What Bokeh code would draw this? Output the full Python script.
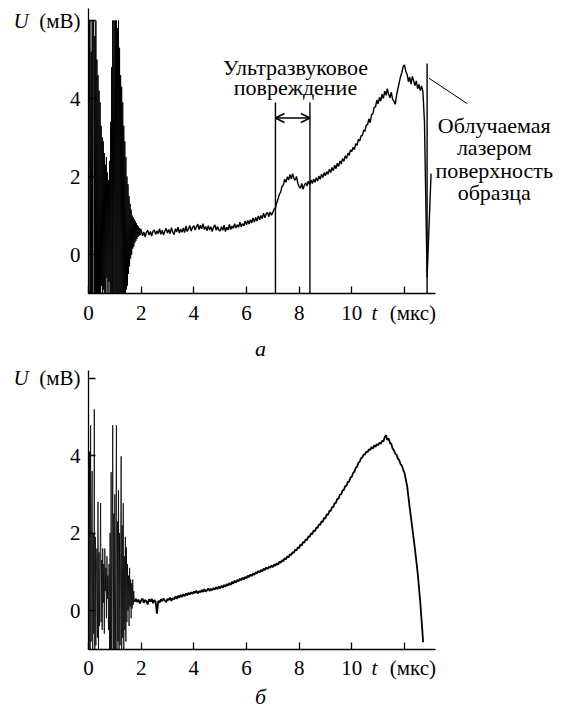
from bokeh.plotting import figure
from bokeh.layouts import column
from bokeh.models import Range1d, Arrow, OpenHead, LinearAxis
from bokeh.core.properties import value
from bokeh.embed import file_html
from bokeh.resources import INLINE

FONT = "Liberation Serif"

# ---------------- data: panel (a) ----------------
a_burst_t0, a_burst_dt = 0.0, 0.02
a_burst_u = [
    6.0, -1.0, 6.0, 6.0, -1.0, 5.2, -1.0, 6.0, -1.0, 6.0,
    6.0, -1.0, 5.6, -1.0, 6.0, -1.0, 5.0, -1.0, 4.6, -1.0,
    4.2, -1.0, 3.9, -1.0, 3.3, -0.8, 3.0, -1.0, 2.9, -0.9,
    2.6, -1.0, 2.3, -1.0, 2.5, -0.6, 2.1, -1.0, 1.9, -0.7,
    2.4, -1.0, 3.4, -1.0, 4.8, -1.0, 6.0, -1.0, 6.0, 6.0,
    -1.0, 6.0, -1.0, 6.0, -1.0, 5.8, -1.0, 6.0, -1.0, 5.3,
    -1.0, 4.6, -1.0, 4.3, -1.0, 3.9, -1.0, 3.3, -1.0, 2.9,
    -1.0, 2.5, -0.9, 2.0, -0.8, 1.8, -0.5, 1.5, -0.3, 1.3,
    -0.1, 1.15, 0.0, 1.0, 0.15, 0.95, 0.2, 0.9, 0.3, 0.85,
    0.35, 0.8, 0.4, 0.75, 0.45, 0.72, 0.48, 0.68, 0.5, 0.66,
]
a_main_t0, a_main_dt = 2.0, 0.05
a_main_u = [
    0.62, 0.48, 0.58, 0.45, 0.57, 0.62, 0.50, 0.59, 0.47, 0.60, 0.63, 0.51, 0.61, 0.53, 0.66, 0.52, 0.62, 0.50, 0.60, 0.67,
    0.55, 0.64, 0.53, 0.69, 0.57, 0.51, 0.66, 0.58, 0.70, 0.55, 0.65, 0.57, 0.68, 0.56, 0.73, 0.59, 0.66, 0.74, 0.60, 0.69,
    0.74, 0.63, 0.71, 0.78, 0.64, 0.75, 0.66, 0.79, 0.64, 0.72, 0.61, 0.74, 0.63, 0.71, 0.59, 0.70, 0.76, 0.62, 0.72, 0.63,
    0.60, 0.71, 0.62, 0.75, 0.59, 0.70, 0.63, 0.77, 0.64, 0.73, 0.67, 0.79, 0.68, 0.76, 0.70, 0.83, 0.71, 0.79, 0.73, 0.86,
    0.76, 0.87, 0.78, 0.89, 0.81, 0.94, 0.83, 0.95, 0.86, 0.99, 0.89, 1.00, 0.92, 1.06, 0.94, 1.04, 1.08, 0.97, 1.09, 1.01,
    1.08, 1.16, 1.20, 1.33, 1.42, 1.55, 1.60, 1.75, 1.78, 1.93, 1.85, 1.99, 1.91, 2.05, 1.94, 2.07, 1.96, 1.90, 2.00, 1.83,
    1.74, 1.70, 1.82, 1.67, 1.78, 1.84, 1.76, 1.88, 1.79, 1.91, 1.82, 1.93, 1.85, 1.97, 1.88, 2.01, 1.93, 2.06, 1.97, 2.10,
    2.02, 2.13, 2.06, 2.19, 2.10, 2.23, 2.15, 2.29, 2.20, 2.34, 2.26, 2.40, 2.32, 2.46, 2.39, 2.53, 2.46, 2.60, 2.54, 2.68,
    2.64, 2.75, 2.69, 2.84, 2.80, 2.95, 2.91, 3.05, 3.04, 3.19, 3.16, 3.32, 3.33, 3.48, 3.38, 3.59, 3.60, 3.78, 3.78, 3.96,
    3.86, 4.03, 3.93, 4.11, 4.00, 4.19, 4.08, 4.25, 4.10, 4.02, 4.16, 3.98, 3.93, 3.85, 4.08, 4.25, 4.40, 4.56, 4.66, 4.82,
    4.86, 4.70, 4.62, 4.43, 4.55, 4.37, 4.57, 4.45, 4.33, 4.45, 4.25, 4.36, 4.20, 4.32, 4.18,
]
a_tail_t = [12.76, 12.86, 13.01]
a_tail_u = [3.40, -0.58, 2.07]

# ---------------- data: panel (b) ----------------
b_burst_t0, b_burst_dt = 0.0, 0.02
b_burst_u = [
    3.6, -1.0, 4.1, -1.0, 4.78, -0.8, 2.4, 3.6, -1.0, 2.0,
    -0.6, 5.19, -1.0, 1.9, -0.9, 1.0, 1.6, -0.7, 2.8, -1.0,
    1.5, -0.4, 1.2, 2.77, -0.3, 1.3, -0.5, 1.6, 0.2, 1.2,
    -0.6, 1.6, 0.5, 1.1, -0.2, 1.4, 0.3, 0.9, -0.5, 1.2,
    -1.0, 2.0, -1.0, 3.57, -1.0, 0.8, 4.78, -1.0, 2.5, -1.0,
    3.0, -1.0, 1.8, 4.78, -1.0, 2.3, -0.8, 3.1, -1.0, 2.0,
    -0.9, 1.5, 3.98, -1.0, 2.2, -0.7, 2.77, -1.0, 1.4, -0.5,
    1.9, -0.8, 1.63, -0.3, 1.2, 0.0, 0.9, -0.4, 1.1, 0.1,
    0.8, -0.2, 0.7, 0.05, 0.8, 0.15, 0.5, 0.22,
]
b_main_t0, b_main_dt = 1.80, 0.05
b_main_u = [
    0.30, 0.22, 0.28, 0.18, 0.26, 0.31, 0.20, 0.27, 0.24, 0.16, 0.29, 0.23, 0.30, 0.19, 0.27, 0.22, -0.08, 0.25, 0.20, 0.29,
    0.24, 0.31, 0.26, 0.21, 0.30, 0.27, 0.33, 0.25, 0.32, 0.29, 0.36, 0.30, 0.38, 0.33, 0.40, 0.35, 0.42, 0.37, 0.44, 0.39,
    0.46, 0.41, 0.47, 0.43, 0.49, 0.45, 0.51, 0.44, 0.50, 0.47, 0.53, 0.48, 0.55, 0.49, 0.52, 0.57, 0.50, 0.56, 0.52, 0.58,
    0.54, 0.60, 0.55, 0.62, 0.57, 0.64, 0.59, 0.66, 0.61, 0.68, 0.64, 0.71, 0.66, 0.74, 0.69, 0.77, 0.72, 0.79, 0.75, 0.82,
    0.78, 0.85, 0.80, 0.87, 0.83, 0.90, 0.86, 0.93, 0.89, 0.96, 0.92, 0.99, 0.95, 1.02, 0.98, 1.05, 1.01, 1.08, 1.04, 1.11,
    1.07, 1.13, 1.10, 1.16, 1.12, 1.19, 1.15, 1.22, 1.18, 1.26, 1.23, 1.30, 1.27, 1.35, 1.32, 1.40, 1.37, 1.45, 1.43, 1.51,
    1.49, 1.57, 1.55, 1.63, 1.61, 1.70, 1.68, 1.77, 1.75, 1.84, 1.82, 1.91, 1.90, 1.99, 1.97, 2.06, 2.05, 2.14, 2.13, 2.22,
    2.21, 2.30, 2.29, 2.39, 2.38, 2.48, 2.47, 2.57, 2.57, 2.67, 2.67, 2.77, 2.78, 2.88, 2.89, 2.99, 3.00, 3.10, 3.11, 3.21,
    3.22, 3.32, 3.33, 3.43, 3.45, 3.55, 3.58, 3.68, 3.71, 3.81, 3.84, 3.93, 3.95, 4.02, 4.03, 4.10, 4.09, 4.16, 4.14, 4.22,
    4.18, 4.26, 4.22, 4.29, 4.26, 4.33, 4.30, 4.38, 4.36, 4.47, 4.52, 4.40, 4.44, 4.32, 4.30, 4.18, 4.13, 4.05, 4.02, 3.92,
    3.88, 3.78, 3.74, 3.64,
]
b_tail_t = [12.0, 12.1, 12.2, 12.3, 12.4, 12.5, 12.6, 12.71]
b_tail_u = [3.55, 3.22, 2.65, 2.12, 1.58, 0.98, 0.22, -0.82]

# ticks and axis texts
x_ticks = [0, 2, 4, 6, 8, 10, 12]
x_tick_labels = ["0", "2", "4", "6", "8", "10"]
y_ticks = [0, 2, 4, 6]
y_tick_labels = ["0", "2", "4"]
x_unit = ("t", "(мкс)")
y_unit = ("U", "(мВ)")
panel_letters = ["а", "б"]

# annotation markers (panel a)
damage_x = [7.10, 8.41]
damage_top = 3.9
arrow_y = 3.5
surface_x = 12.86
surface_top = 4.9
damage_lines = ["Ультразвуковое", "повреждение"]
surface_lines = ["Облучаемая", "лазером", "поверхность", "образца"]

PX_PER_T = 26.33       # horizontal scale, px per microsecond
X_AXIS_END = 13.18


def series(t0, dt, vals):
    return [t0 + dt * i for i in range(len(vals))], vals


def make_fig(height, y_zero_px, px_per_u, y_axis_top, letter, letter_y):
    # the frame covers the whole canvas; axes are drawn at fixed data locations
    x_range = Range1d(-88 / PX_PER_T, (556 - 88) / PX_PER_T)
    y_range = Range1d((y_zero_px - height) / px_per_u, y_zero_px / px_per_u)
    p = figure(width=556, height=height, output_backend="svg", toolbar_location=None,
               x_range=x_range, y_range=y_range,
               x_axis_location=None, y_axis_location=None,
               min_border_left=0, min_border_right=0, min_border_top=0, min_border_bottom=0)
    p.outline_line_color = None
    p.grid.visible = False
    common = dict(axis_line_color="black", axis_line_width=1.3,
                  major_tick_line_color="black", major_tick_line_width=1.3,
                  major_tick_in=7, major_tick_out=0, minor_tick_line_color=None,
                  major_label_text_font_size="0px", major_label_standoff=0,
                  axis_label_standoff=0)
    xa = LinearAxis(ticker=x_ticks, fixed_location=-1, bounds=(0, X_AXIS_END),
                    major_label_overrides={t: "" for t in x_ticks}, **common)
    ya = LinearAxis(ticker=y_ticks, fixed_location=0, bounds=(-1, y_axis_top),
                    major_label_overrides={t: "" for t in y_ticks}, **common)
    p.add_layout(xa, "below")
    p.add_layout(ya, "left")

    fs = "21px"
    # tick labels
    lab_y = -1 - 19 / px_per_u
    p.text(x=x_ticks[:len(x_tick_labels)], y=[lab_y] * len(x_tick_labels), text=x_tick_labels,
           text_font=value(FONT), text_font_size=fs, text_align="center",
           text_baseline="middle", text_color="black")
    lab_x = -8 / PX_PER_T
    p.text(x=[lab_x] * len(y_tick_labels), y=y_ticks[:len(y_tick_labels)], text=y_tick_labels,
           text_font=value(FONT), text_font_size=fs, text_align="right",
           text_baseline="middle", text_color="black")
    # axis unit labels at the last ticks
    p.text(x=[x_ticks[-1] - 1.14], y=[lab_y], text=[x_unit[0]], text_font=value(FONT),
           text_font_style="italic", text_font_size=fs, text_align="center",
           text_baseline="middle", text_color="black")
    p.text(x=[x_ticks[-1] + 0.32], y=[lab_y], text=[x_unit[1]], text_font=value(FONT),
           text_font_size=fs, text_align="center", text_baseline="middle", text_color="black")
    p.text(x=[-75 / PX_PER_T], y=[y_ticks[-1]], text=[y_unit[0]], text_font=value(FONT),
           text_font_style="italic", text_font_size=fs, text_align="left",
           text_baseline="middle", text_color="black")
    p.text(x=[lab_x], y=[y_ticks[-1]], text=[y_unit[1]], text_font=value(FONT),
           text_font_size=fs, text_align="right", text_baseline="middle", text_color="black")
    # panel letter
    p.text(x=[172 / PX_PER_T], y=[letter_y], text=[letter], text_font=value(FONT),
           text_font_style="italic", text_font_size="22px", text_align="center",
           text_baseline="alphabetic", text_color="black")
    return p


# ---------------- panel a ----------------
p1 = make_fig(360, 254, 39.0, 6.31, panel_letters[0], -2.41)
t, u = series(a_burst_t0, a_burst_dt, a_burst_u)
p1.line(t, u, line_color="black", line_width=1)
t2, u2 = series(a_main_t0, a_main_dt, a_main_u)
p1.line([t[-1]] + t2 + a_tail_t, [u[-1]] + u2 + a_tail_u, line_color="black", line_width=1.4)

p1.segment(x0=damage_x, y0=[-1, -1], x1=damage_x, y1=[damage_top, damage_top],
           line_color="black", line_width=1.4)
p1.segment(x0=[surface_x], y0=[-1], x1=[surface_x], y1=[surface_top], line_color="black", line_width=1.4)
p1.segment(x0=[12.93], y0=[4.52], x1=[14.38], y1=[3.87], line_color="black", line_width=1)
p1.add_layout(Arrow(start=OpenHead(size=9, line_width=1.6), end=OpenHead(size=9, line_width=1.6),
                    x_start=damage_x[0], y_start=arrow_y, x_end=damage_x[1], y_end=arrow_y,
                    line_width=1.6))
p1.text(x=[7.86, 7.86], y=[4.79, 4.29], text=damage_lines, text_font=value(FONT),
        text_font_size="22px", text_align="center", text_baseline="alphabetic", text_color="black")
p1.text(x=[15.41] * 4, y=[3.31, 2.74, 2.15, 1.59], text=surface_lines, text_font=value(FONT),
        text_font_size="22px", text_align="center", text_baseline="alphabetic", text_color="black")

# ---------------- panel b ----------------
p2 = make_fig(353, 250, 38.75, 6.19, panel_letters[1], -2.22)
t, u = series(b_burst_t0, b_burst_dt, b_burst_u)
p2.line(t, u, line_color="black", line_width=0.8)
t2, u2 = series(b_main_t0, b_main_dt, b_main_u)
p2.line([t[-1]] + t2 + b_tail_t, [u[-1]] + u2 + b_tail_u, line_color="black", line_width=1.8)

layout = column(p1, p2)
open("out.html", "w").write(file_html(layout, INLINE))
